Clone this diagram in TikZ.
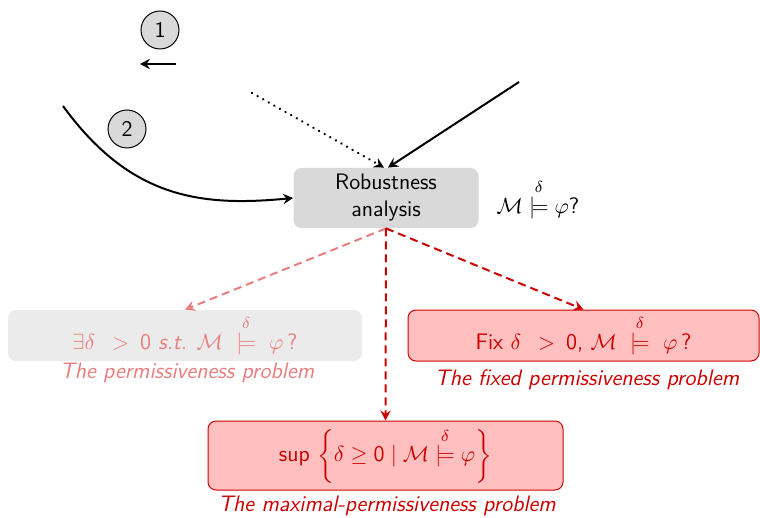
\documentclass[tikz,border=0pt]{standalone}
\usepackage{fontspec}
\usepackage{amsmath,amssymb}
\usetikzlibrary{arrows.meta}
\definecolor{boxgrey}{HTML}{D9D9D9}
\definecolor{palegrey}{HTML}{EBEBEB}
\definecolor{dred}{HTML}{CC0000}
\definecolor{lred}{HTML}{E87E7E}
\definecolor{pinkfill}{HTML}{FFBFBF}
\newcommand{\dmodels}{\stackrel{\delta}{\models}}
\begin{document}
\begin{tikzpicture}[x=0.5pt,y=-0.5pt,
  font=\sffamily\fontsize{11.2}{13.5}\selectfont,
  tip/.style={-{Stealth[length=5pt, width=5.2pt, inset=1.8pt]}},
  num/.style={circle, draw, line width=0.5pt, fill=boxgrey, minimum size=19pt, inner sep=0pt},
  conn/.style={line width=1pt, tip},
  probbox/.style={rounded corners=4pt, align=center, inner sep=0pt},
  dashconn/.style={line width=1pt, tip, dash pattern=on 4pt off 2.5pt},
  caption/.style={font=\sffamily\itshape\fontsize{11.2}{13.5}\selectfont}]
  \useasboundingbox (0,0) rectangle (760,518);

  % numbered markers
  \node[num] (n1) at (160,30) {1};
  \node[num] (n2) at (127,129) {2};

  % central analysis box
  \node[probbox, fill=boxgrey, minimum width=92.5pt, minimum height=30pt]
    (robust) at (386,198) {Robustness\\analysis};
  \node (query) at (538,199) {$\mathcal{M} \dmodels \varphi$?};

  % incoming connectors
  \coordinate (a1) at (176,64);
  \coordinate (a0) at (140,64);
  \coordinate (c0) at (63,106);
  \coordinate (d0) at (252,93);
  \coordinate (s0) at (519,82);
  \draw[conn] (a1) -- (a0);
  \draw[conn] (c0) .. controls (130,198) and (200,207) .. (robust.west);
  \draw[conn, line width=1.3pt, line cap=round, dash pattern=on 0.01pt off 3.2pt] (d0) -- ([xshift=-1pt]robust.north);
  \draw[conn] (s0) -- ([xshift=1pt]robust.north);

  % the three problems
  \node[probbox, fill=palegrey, text=lred, minimum width=177pt, minimum height=25.5pt]
    (perm) at (185,335.5)
    {$\exists\delta\ \,>\ \,$0 \textit{s.t.} $\mathcal{M}\ \dmodels\ \varphi\,$?};
  \node[caption, text=lred] (permcap) at (187,373) {The permissiveness problem};

  \node[probbox, draw=dred, line width=0.5pt, fill=pinkfill, text=dred,
    minimum width=175.5pt, minimum height=25.5pt]
    (fixed) at (583.5,335.5)
    {Fix $\delta\ \,>\ \,$0, $\mathcal{M}\ \dmodels\ \varphi\,$?};
  \node[caption, text=dred] (fixedcap) at (587,380) {The fixed permissiveness problem};

  \node[probbox, draw=dred, line width=0.5pt, fill=pinkfill, text=dred,
    minimum width=177.5pt, minimum height=34.5pt]
    (maxp) at (385.5,455.5)
    {sup $\bigg\{\delta \geq \mathsf{0} \mid \mathcal{M} \dmodels \varphi\bigg\}$};
  \node[caption, text=dred] (maxcap) at (387,506) {The maximal-permissiveness problem};

  % outgoing connectors
  \draw[dashconn, lred] (robust.south) -- (perm.north);
  \draw[dashconn, dred] (robust.south) -- (maxp.north);
  \draw[dashconn, dred] (robust.south) -- (fixed.north);
\end{tikzpicture}
\end{document}
